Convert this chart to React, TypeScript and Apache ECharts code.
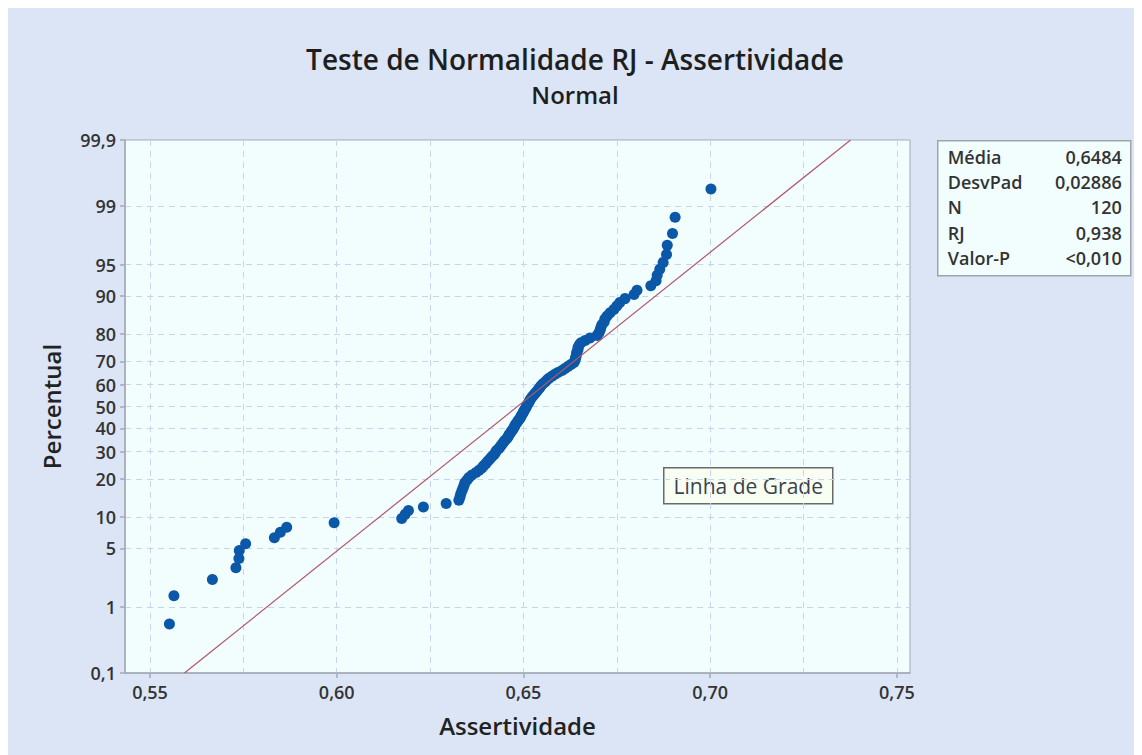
import React, { useEffect, useRef } from 'react';
import * as echarts from 'echarts';

const assertividade = [
  0.5552, 0.5564, 0.5667, 0.5730, 0.5738, 0.5739, 0.5756, 0.5833, 0.5849, 0.5866,
  0.5993, 0.6174, 0.6183, 0.6192, 0.6232, 0.6293, 0.6327, 0.6330, 0.6332, 0.6335,
  0.6338, 0.6341, 0.6343, 0.6349, 0.6354, 0.6362, 0.6373, 0.6381, 0.6389, 0.6394,
  0.6400, 0.6405, 0.6410, 0.6415, 0.6421, 0.6425, 0.6428, 0.6434, 0.6438, 0.6442,
  0.6446, 0.6450, 0.6455, 0.6459, 0.6461, 0.6465, 0.6468, 0.6472, 0.6475, 0.6477,
  0.6480, 0.6484, 0.6487, 0.6491, 0.6493, 0.6496, 0.6499, 0.6501, 0.6504, 0.6507,
  0.6509, 0.6512, 0.6515, 0.6517, 0.6520, 0.6524, 0.6528, 0.6532, 0.6536, 0.6540,
  0.6544, 0.6547, 0.6552, 0.6558, 0.6563, 0.6568, 0.6576, 0.6584, 0.6592, 0.6603,
  0.6611, 0.6619, 0.6627, 0.6635, 0.6638, 0.6639, 0.6641, 0.6642, 0.6643, 0.6646,
  0.6646, 0.6649, 0.6654, 0.6665, 0.6678, 0.6697, 0.6702, 0.6705, 0.6707, 0.6710,
  0.6716, 0.6718, 0.6724, 0.6732, 0.6742, 0.6750, 0.6758, 0.6772, 0.6796, 0.6804,
  0.6841, 0.6855, 0.6858, 0.6865, 0.6874, 0.6883, 0.6885, 0.6899, 0.6906, 0.7002,
];

const media = 0.6484;
const desvPad = 0.02886;

const statLabels = ['Média', 'DesvPad', 'N', 'RJ', 'Valor-P'];
const statValues = ['0,6484', '0,02886', '120', '0,938', '<0,010'];

const percentTicks = [0.1, 1, 5, 10, 20, 30, 40, 50, 60, 70, 80, 90, 95, 99, 99.9];
const percentTickLabels = ['0,1', '1', '5', '10', '20', '30', '40', '50', '60', '70', '80', '90', '95', '99', '99,9'];
const percentGrid = [1, 5, 10, 20, 30, 40, 50, 60, 70, 80, 90, 95, 99];

const xTickValues = [0.55, 0.6, 0.65, 0.7, 0.75];
const xTickLabels = ['0,55', '0,60', '0,65', '0,70', '0,75'];
const xGridValues = [0.55, 0.575, 0.6, 0.625, 0.65, 0.675, 0.7, 0.725, 0.75];
const xMin = 0.5433;
const xMax = 0.7535;

// inverse standard normal CDF (Acklam)
function invNorm(p: number): number {
  const a = [-3.969683028665376e1, 2.209460984245205e2, -2.759285104469687e2, 1.38357751867269e2, -3.066479806614716e1, 2.506628277459239];
  const b = [-5.447609879822406e1, 1.615858368580409e2, -1.556989798598866e2, 6.680131188771972e1, -1.328068155288572e1];
  const c = [-7.784894002430293e-3, -3.223964580411365e-1, -2.400758277161838, -2.549732539343734, 4.374664141464968, 2.938163982698783];
  const d = [7.784695709041462e-3, 3.224671290700398e-1, 2.445134137142996, 3.754408661907416];
  const pl = 0.02425;
  const ph = 1 - pl;
  let q: number;
  let r: number;
  if (p < pl) {
    q = Math.sqrt(-2 * Math.log(p));
    return (((((c[0] * q + c[1]) * q + c[2]) * q + c[3]) * q + c[4]) * q + c[5]) / ((((d[0] * q + d[1]) * q + d[2]) * q + d[3]) * q + 1);
  }
  if (p > ph) {
    q = Math.sqrt(-2 * Math.log(1 - p));
    return -(((((c[0] * q + c[1]) * q + c[2]) * q + c[3]) * q + c[4]) * q + c[5]) / ((((d[0] * q + d[1]) * q + d[2]) * q + d[3]) * q + 1);
  }
  q = p - 0.5;
  r = q * q;
  return ((((((a[0] * r + a[1]) * r + a[2]) * r + a[3]) * r + a[4]) * r + a[5]) * q) / (((((b[0] * r + b[1]) * r + b[2]) * r + b[3]) * r + b[4]) * r + 1);
}

const App: React.FC = () => {
  const ref = useRef<HTMLDivElement>(null);

  useEffect(() => {
    document.documentElement.style.overflow = 'hidden';
    document.body.style.overflow = 'hidden';
    if (!ref.current) return;
    const chart = echarts.init(ref.current, undefined, { renderer: 'svg' });

    const n = assertividade.length;
    const zTicks = percentTicks.map((p) => invNorm(p / 100));
    const zGrid = percentGrid.map((p) => invNorm(p / 100));
    const yMin = zTicks[0];
    const yMax = zTicks[zTicks.length - 1];

    // median-rank plotting positions (Benard)
    const points = assertividade.map((x, i) => [x, invNorm((i + 1 - 0.3) / (n + 0.4))]);
    const fitLine = [
      [media + yMin * desvPad, yMin],
      [media + yMax * desvPad, yMax],
    ];

    const font = 'Open Sans';
    const axisColor = '#a3aab6';
    const gridColor = '#c8d3ee';
    const labelStyle = { color: '#333333', fontFamily: font, fontWeight: 600 as const, fontSize: 18, lineHeight: 18 };

    const option: any = {
      animation: false,
      backgroundColor: '#dbe5f5',
      textStyle: { fontFamily: font },
      title: [
        {
          text: 'Teste de Normalidade RJ - Assertividade',
          left: 'center',
          top: 37,
          padding: 0,
          textStyle: { fontSize: 28, lineHeight: 28, fontWeight: 600, color: '#1e1e1e', fontFamily: font },
        },
        {
          text: 'Normal',
          left: 'center',
          top: 74,
          padding: 0,
          textStyle: { fontSize: 24, lineHeight: 24, fontWeight: 600, color: '#1e1e1e', fontFamily: font },
        },
      ],
      grid: {
        left: 117,
        top: 132,
        width: 785,
        height: 533,
        show: true,
        backgroundColor: '#f2fefe',
        borderColor: axisColor,
        borderWidth: 1,
      },
      xAxis: [
        {
          type: 'value',
          min: xMin,
          max: xMax,
          position: 'bottom',
          axisLine: { show: true, onZero: false, lineStyle: { color: axisColor, width: 1.5 } },
          axisTick: { show: true, length: 5, customValues: xTickValues, lineStyle: { color: axisColor, width: 1.5 } },
          axisLabel: {
            customValues: xTickValues,
            margin: 10,
            ...labelStyle,
            formatter: (v: number) => {
              const i = xTickValues.findIndex((t) => Math.abs(t - v) < 1e-6);
              return i >= 0 ? xTickLabels[i] : '';
            },
          },
          splitLine: { show: false },
          name: 'Assertividade',
          nameLocation: 'middle',
          nameGap: 40,
          nameTextStyle: { fontSize: 24, fontWeight: 600, color: '#222', fontFamily: font },
        },
        {
          type: 'value',
          min: xMin,
          max: xMax,
          position: 'top',
          axisLine: { show: false, onZero: false },
          axisTick: { show: false, customValues: xGridValues },
          axisLabel: { show: false },
          splitLine: { show: true, lineStyle: { color: gridColor, width: 1, type: [6, 5] } },
        },
      ],
      yAxis: [
        {
          type: 'value',
          min: yMin,
          max: yMax,
          position: 'left',
          axisLine: { show: true, onZero: false, lineStyle: { color: axisColor, width: 1.5 } },
          axisTick: { show: true, length: 5, customValues: zTicks, lineStyle: { color: axisColor, width: 1.5 } },
          axisLabel: {
            customValues: zTicks,
            margin: 9,
            ...labelStyle,
            formatter: (v: number) => {
              let best = 0;
              for (let i = 1; i < zTicks.length; i++) {
                if (Math.abs(zTicks[i] - v) < Math.abs(zTicks[best] - v)) best = i;
              }
              return percentTickLabels[best];
            },
          },
          splitLine: { show: false },
          name: 'Percentual',
          nameLocation: 'middle',
          nameGap: 62,
          nameTextStyle: { fontSize: 24, fontWeight: 600, color: '#222', fontFamily: font },
        },
        {
          type: 'value',
          min: yMin,
          max: yMax,
          position: 'right',
          axisLine: { show: false, onZero: false },
          axisTick: { show: false, customValues: zGrid },
          axisLabel: { show: false },
          splitLine: { show: true, lineStyle: { color: gridColor, width: 1, type: [6, 5] } },
        },
      ],
      series: [
        {
          type: 'line',
          xAxisIndex: 0,
          yAxisIndex: 0,
          data: fitLine,
          symbol: 'none',
          lineStyle: { color: '#b3566a', width: 1.2 },
          silent: true,
        },
        {
          type: 'scatter',
          xAxisIndex: 0,
          yAxisIndex: 0,
          data: points,
          symbolSize: 11,
          itemStyle: { color: '#0b57a8', opacity: 1 },
        },
      ],
      graphic: [
        {
          type: 'group',
          left: 929,
          top: 132,
          children: [
            {
              type: 'rect',
              shape: { x: 0, y: 0, width: 193, height: 135 },
              style: { fill: '#f2fefe', stroke: '#a0a4aa', lineWidth: 1.5 },
            },
            ...statLabels.map((t, i) => ({
              type: 'text',
              x: 10,
              y: 16 + i * 25.3,
              style: { text: t, fill: '#333', font: `600 18px "${font}"`, textAlign: 'left', textVerticalAlign: 'middle' },
            })),
            ...statValues.map((t, i) => ({
              type: 'text',
              x: 184,
              y: 16 + i * 25.3,
              style: { text: t, fill: '#333', font: `600 18px "${font}"`, textAlign: 'right', textVerticalAlign: 'middle' },
            })),
          ],
        },
        {
          type: 'group',
          left: 655,
          top: 459,
          children: [
            {
              type: 'rect',
              shape: { x: 0, y: 0, width: 169, height: 36 },
              style: { fill: '#f8fff2', stroke: '#6a6a6a', lineWidth: 1.5 },
            },
            {
              type: 'text',
              x: 84.5,
              y: 18,
              style: { text: 'Linha de Grade', fill: '#3a4250', font: `21px "${font}"`, textAlign: 'center', textVerticalAlign: 'middle' },
            },
          ],
        },
      ],
    };

    chart.setOption(option);
    return () => chart.dispose();
  }, []);

  return <div ref={ref} style={{ width: 1134, height: 747 }} />;
};

export default App;
